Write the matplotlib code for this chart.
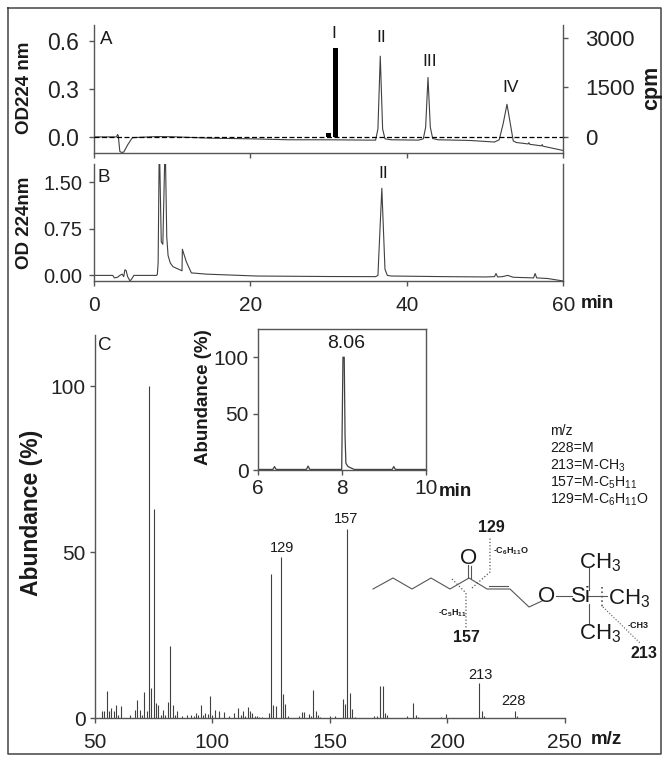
import matplotlib
matplotlib.use("Agg")
import matplotlib.pyplot as plt

plt.rcParams['font.family'] = ['Liberation Sans', 'DejaVu Sans']
plt.rcParams['mathtext.default'] = 'regular'

W, H = 668, 761
GREY = '#555555'
LINE = '#404040'

# Panel A, UV trace
a_time = [0, 2.9, 3.0, 3.1, 3.3, 3.5, 3.8, 4.3, 4.9, 6, 8, 10, 15, 20, 25, 30, 35, 36.0, 36.3, 36.6, 36.9, 37.2, 38,
          41.5, 42.1, 42.4, 42.7, 43.0, 43.3, 44, 48, 51.2, 51.8, 52.3, 52.8, 53.2, 53.6, 54, 55.5, 55.6, 55.7,
          57.2, 57.3, 57.4, 60]
a_od = [0, 0, 0.015, 0.01, -0.09, -0.097, -0.095, -0.05, -0.005, -0.002, 0.002, 0.001, -0.008, -0.012, -0.018,
        -0.018, -0.02, -0.02, 0.05, 0.505, 0.05, -0.012, -0.018, -0.02, -0.012, 0.06, 0.372, 0.06, -0.01, -0.018,
        -0.022, -0.032, -0.018, 0.08, 0.204, 0.09, -0.025, -0.035, -0.044, -0.036, -0.046, -0.056, -0.048, -0.058,
        -0.085]

# Panel A, radioactivity
cpm_time = [30.0, 30.9]
cpm_width = [0.6, 0.68]
cpm_counts = [110, 2700]

# Panel B, UV trace
b_time = [0, 2.4, 2.6, 3.0, 3.3, 3.6, 3.8, 3.95, 4.1, 4.3, 4.6, 4.8, 5.1, 8.0, 8.1, 8.2, 8.35, 8.6, 8.8, 9.1, 9.3,
          9.47, 9.75, 10.1, 11.25, 11.3, 11.8, 12.45, 14.4, 20.8, 30, 36.0, 36.3, 36.8, 37.2, 37.5, 38, 45, 50, 51.2,
          51.4, 51.6, 52.2, 52.9, 53.6, 56.2, 56.4, 56.6, 58, 60]
b_od = [0, 0, -0.04, -0.03, 0, 0.02, -0.02, 0.09, 0.08, -0.02, -0.09, -0.06, 0, 0, 0.02, 0.2, 2.2, 0.54, 0.5, 2.2,
        0.62, 0.32, 0.2, 0.14, 0.074, 0.42, 0.22, 0.04, 0.02, -0.01, -0.018, -0.02, 0, 1.40, 0.1, 0.0, -0.01, -0.02,
        -0.025, -0.02, 0.03, -0.025, -0.02, 0.0, -0.03, -0.04, 0.03, -0.04, -0.05, -0.09]

# Panel C, mass spectrum
mz = [53, 54, 55, 56, 57, 58, 59, 60, 61, 65, 67, 68, 69, 70, 71, 72, 73, 74, 75, 76, 77, 78, 79, 80, 81, 82, 83, 84,
      85, 87, 89, 91, 92, 93, 94, 95, 96, 97, 98, 99, 100, 101, 103, 105, 107, 109, 111, 112, 113, 114, 115, 116,
      117, 118, 119, 120, 121, 124, 125, 126, 127, 129, 130, 131, 132, 137, 138, 139, 141, 142, 143, 144, 145, 146,
      150, 152, 155.5, 156.5, 157.5, 158.5, 159.5, 160.5, 169, 170, 171.5, 172.5, 173.5, 174.5, 183, 185.5, 186.5,
      187.5, 197.5, 199.5, 213.7, 214.7, 215.7, 228.8, 229.8]
abundance = [2, 2, 8, 2, 3, 2, 4, 1, 3.5, 1, 2.3, 5.3, 2.3, 1, 7.8, 2, 100, 9, 63, 4.5, 4, 1, 2.5, 1, 4.8, 21.8, 3.8,
             1, 2, 0.5, 1, 1, 0.5, 1.5, 1, 4, 1, 1.5, 1.3, 6.5, 0.8, 2.5, 2.2, 1.7, 0.6, 1.6, 3, 1, 2, 0.7, 3.3, 2.2,
             1.6, 0.6, 0.5, 0.4, 0.4, 1.6, 43.3, 4, 3.5, 48.6, 7.3, 4.2, 0.5, 0.5, 1.7, 1.7, 1.3, 0.6, 8.4, 2.1, 0.8,
             0.4, 0.5, 0.5, 5.8, 4.1, 57, 7.5, 2.6, 0.4, 0.5, 0.5, 9.7, 9.7, 1.6, 1, 0.5, 4.6, 1, 0.4, 0.3, 1.1, 10.6,
             2, 0.7, 2.1, 0.6]

# Inset, chromatogram
inset_time = [6, 6.36, 6.4, 6.44, 7.16, 7.2, 7.24, 8.0, 8.03, 8.06, 8.08, 8.1, 8.15, 8.3, 9.2, 9.24, 9.28, 10]
inset_abundance = [0.5, 0.5, 3, 0.5, 0.5, 3.5, 0.5, 0.5, 100, 100, 30, 6, 3, 0.5, 0.5, 3, 0.5, 0.5]

# Side formula, drawn in pixels of the figure
chain_x = [373, 393, 412, 431, 450, 469, 487, 510, 529, 542]
chain_y = [589, 578, 589, 578, 589, 578, 589, 589, 607, 601]

fig = plt.figure(figsize=(W / 100, H / 100), dpi=100)


def make_axes(left, top, right, bottom):
    return fig.add_axes([left / W, 1 - bottom / H, (right - left) / W, (bottom - top) / H])


def style(ax, size, keep=('left', 'bottom')):
    for side in ['left', 'right', 'top', 'bottom']:
        ax.spines[side].set_visible(side in keep)
        ax.spines[side].set_color(GREY)
        ax.spines[side].set_linewidth(1)
    ax.tick_params(length=3.5, width=1, color=GREY, labelsize=size, pad=3, labelcolor='#222222')
    ax.patch.set_alpha(0)


# Panel A
ax_a = make_axes(94, 25, 563.3, 152.5)
ax_a.plot(a_time, a_od, color=LINE, lw=0.8)
ax_a.set_xlim(0, 60)
ax_a.set_ylim(-0.0975, 0.70)
ax_a.set_xticks([0, 20, 40, 60])
ax_a.set_xticklabels([])
ax_a.set_yticks([0, 0.3, 0.6])
ax_a.set_yticklabels(['0.0', '0.3', '0.6'])
style(ax_a, 16.5, ('left', 'bottom'))
ax_a.tick_params(axis='y', pad=7)

ax_cpm = ax_a.twinx()
ax_cpm.bar(cpm_time, cpm_counts, width=cpm_width, color='black')
ax_cpm.plot([0, 60.4], [0, 0], color='black', lw=0.9, ls=(0, (4, 2)), clip_on=False)
ax_cpm.set_ylim(-470, 3380)
ax_cpm.set_yticks([0, 1500, 3000])
style(ax_cpm, 16, ('right',))
ax_cpm.tick_params(axis='y', pad=12)

# Panel B
ax_b = make_axes(94, 164, 563.3, 281)
ax_b.plot(b_time, b_od, color=LINE, lw=0.8)
ax_b.set_xlim(0, 60)
ax_b.set_ylim(-0.09, 1.79)
ax_b.set_xticks([0, 20, 40, 60])
ax_b.set_yticks([0, 0.75, 1.5])
ax_b.set_yticklabels(['0.00', '0.75', '1.50'])
style(ax_b, 14.5, ('left', 'bottom', 'right'))
ax_b.tick_params(axis='x', labelsize=15, pad=7)
ax_b.tick_params(axis='y', pad=5)

# Panel C
ax_c = make_axes(95, 335, 564.7, 718)
ax_c.vlines(mz, 0, abundance, color=LINE, lw=0.8)
ax_c.set_xlim(50, 250)
ax_c.set_ylim(0, 115.4)
ax_c.set_xticks([50, 100, 150, 200, 250])
ax_c.set_yticks([0, 50, 100])
style(ax_c, 15)
ax_c.tick_params(axis='x', pad=7)

# Inset
ax_in = make_axes(257.7, 329, 425.7, 470)
ax_in.plot(inset_time, inset_abundance, color=LINE, lw=0.9)
ax_in.set_xlim(6, 10)
ax_in.set_ylim(0, 125)
ax_in.set_xticks([6, 8, 10])
ax_in.set_yticks([0, 50, 100])
style(ax_in, 15, ('left', 'bottom', 'right', 'top'))

# Overlay in pixels for labels, frame and formula
ov = fig.add_axes([0, 0, 1, 1], zorder=5)
ov.set_xlim(0, W)
ov.set_ylim(H, 0)
ov.axis('off')
ov.plot([8, 661, 661, 8, 8], [8, 8, 754, 754, 8], color='#444444', lw=1.1)


def label(x, y, s, size=13, bold=False, rot=0, ha='center'):
    ov.text(x, y, s, fontsize=size, fontweight='bold' if bold else 'normal', rotation=rot,
            ha=ha, va='center', color='#1a1a1a')


label(106, 39, 'A', 13.5)
label(104, 178, 'B', 13.5)
label(105, 345, 'C', 13.5)
label(334, 33, 'I', 12.5)
label(381, 37, 'II', 12.5)
label(430, 62, 'III', 12.5)
label(511, 88, 'IV', 12.5)
label(383, 174, 'II', 12.5)

label(25, 88, 'OD224 nm', 13.5, True, 90)
label(25, 223, 'OD 224nm', 13.5, True, 90)
label(652, 88, 'cpm', 15.5, True, 90)
label(597, 304, 'min', 13.5, True)
label(32, 513, 'Abundance (%)', 16.5, True, 90)
label(204, 397, 'Abundance (%)', 13.5, True, 90)
label(455, 492, 'min', 13.5, True)
label(606, 739, 'm/z', 13.5, True)

label(346, 344, '8.06', 14)
label(282, 548, '129', 10.5)
label(346, 519, '157', 10.5)
label(480, 675, '213', 10.5)
label(513, 701, '228', 10.5)

legend_lines = ['m/z', '228=M', '213=M-CH$_3$', '157=M-C$_5$H$_{11}$', '129=M-C$_6$H$_{11}$O']
for i, line in enumerate(legend_lines):
    label(550, 431 + i * 17.3, line, 10.2, ha='left')

# Formula
ov.plot(chain_x, chain_y, color='#555555', lw=0.8)
ov.plot([489, 508], [586, 586], color='#555555', lw=0.8)
ov.plot([468, 468], [578, 565], color='#555555', lw=0.8)
ov.plot([471, 471], [578, 566], color='#555555', lw=0.8)
ov.plot([556, 572], [595.5, 595.5], color='#555555', lw=0.8)
ov.plot([588, 607], [595.5, 595.5], color='#555555', lw=0.8)
ov.plot([588.5, 588.5], [568, 590], color='#555555', lw=0.8)
ov.plot([588.5, 588.5], [604, 624], color='#555555', lw=0.8)
ov.plot([452, 466, 466], [579, 593, 628], color='#555555', lw=0.9, ls=':')
ov.plot([472, 490, 490], [588, 572, 537], color='#555555', lw=0.9, ls=':')
ov.plot([602, 602], [587, 607], color='#555555', lw=1.2, ls=':')
ov.plot([603, 640], [607, 643], color='#555555', lw=0.8, ls=':')
label(469, 558, 'O', 16)
label(547, 597, 'O', 16)
label(581, 597, 'Si', 16)
label(600, 563, 'CH$_3$', 16)
label(629, 599, 'CH$_3$', 16)
label(600, 634, 'CH$_3$', 16)
label(491, 527, '129', 11.5, True)
label(466, 637, '157', 11.5, True)
label(644, 653, '213', 11.5, True)
label(511, 551, '-C$_6$H$_{11}$O', 6.5, True)
label(452, 613, '-C$_5$H$_{11}$', 6.5, True)
label(638, 625, '-CH3', 6.5, True)

fig.savefig('out.png', dpi=100)
